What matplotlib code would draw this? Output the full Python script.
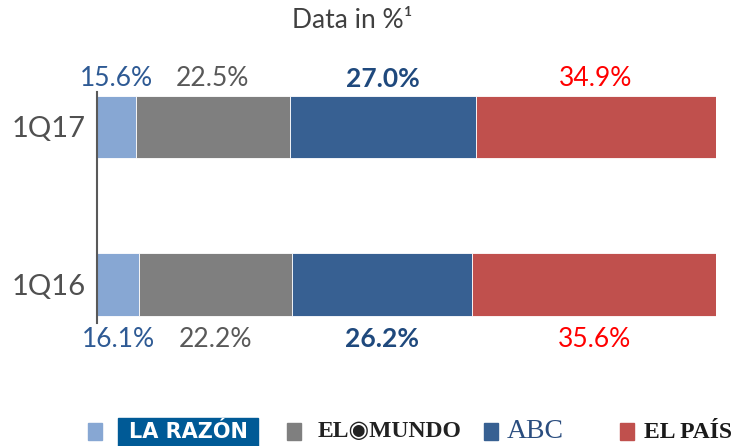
import matplotlib.pyplot as plt
from matplotlib.patches import Rectangle

# data
periods = ['1Q16', '1Q17']
papers = ['LA RAZÓN', 'EL MUNDO', 'ABC', 'EL PAÍS']
shares = {
    'LA RAZÓN': [16.1, 15.6],
    'EL MUNDO': [22.2, 22.5],
    'ABC': [26.2, 27.0],
    'EL PAÍS': [35.6, 34.9],
}
bar_colors = ['#87A7D3', '#7F7F7F', '#376092', '#C0504D']
label_colors = ['#2E5A94', '#595959', '#1F497D', '#FF0000']
label_bold = [False, False, True, False]
x_start = 10  # axis starts at 10%

plt.rcParams['font.family'] = ['Lato', 'DejaVu Sans']

fig = plt.figure(figsize=(7.34, 4.46), dpi=100)
ax = fig.add_axes([97 / 734, 1 - 323 / 446, (716 - 97) / 734, 231 / 446])

ypos = [0, 1]
left = [0, 0]
for i, p in enumerate(papers):
    vals = shares[p]
    ax.barh(ypos, vals, left=left, height=0.395, color=bar_colors[i],
            edgecolor='white', linewidth=0.6)
    for j in range(2):
        lo = max(left[j], x_start)
        cx = (lo + left[j] + vals[j]) / 2
        if j == 1:
            cy, va = 1 + 0.2 + 0.03, 'bottom'
        else:
            cy, va = -0.2 - 0.07, 'top'
        ax.text(cx, cy, '%.1f%%' % vals[j], ha='center', va=va, fontsize=19,
                color=label_colors[i],
                fontweight='bold' if label_bold[i] else 'normal',
                clip_on=False)
    left = [left[k] + vals[k] for k in range(2)]

ax.set_xlim(x_start, 100)
ax.set_ylim(-0.244, 1.222)
ax.set_yticks(ypos)
ax.set_yticklabels(periods, fontsize=21, color='#505050')
ax.tick_params(axis='y', length=0, pad=8)
ax.set_xticks([])
for s in ['top', 'right', 'bottom']:
    ax.spines[s].set_visible(False)
ax.spines['left'].set_color('#595959')
ax.spines['left'].set_linewidth(1.5)

fig.text(352 / 734, 1 - 20 / 446, 'Data in %¹', ha='center', va='center',
         fontsize=19, color='#404040')

# legend (logos drawn as text)
def sq(x, c):
    fig.patches.append(Rectangle((x / 734, 1 - 440 / 446), 14 / 734, 17 / 446,
                                 transform=fig.transFigure, color=c))

sq(88, bar_colors[0])
sq(287, bar_colors[1])
sq(484, bar_colors[2])
sq(620, bar_colors[3])
fig.patches.append(Rectangle((118 / 734, 0), 140 / 734, 28 / 446,
                             transform=fig.transFigure, color='#005A96'))
fig.text(188 / 734, 1 - 432 / 446, 'LA RAZÓN', ha='center', va='center',
         fontsize=15, color='white', fontweight='bold', family='DejaVu Sans Condensed')
fig.text(390 / 734, 1 - 432 / 446, 'EL◉MUNDO', ha='center', va='center',
         fontsize=17, color='#222222', fontweight='bold',
         family=['Liberation Serif', 'DejaVu Sans'])
fig.text(535 / 734, 1 - 431 / 446, 'ABC', ha='center', va='center',
         fontsize=20, color='#2A4D7F', family='Liberation Serif')
fig.text(644 / 734, 1 - 432 / 446, 'EL PAÍS', ha='left', va='center',
         fontsize=17, color='#1A1A1A', fontweight='bold', family='Liberation Serif')

fig.savefig('out.png', dpi=100)
